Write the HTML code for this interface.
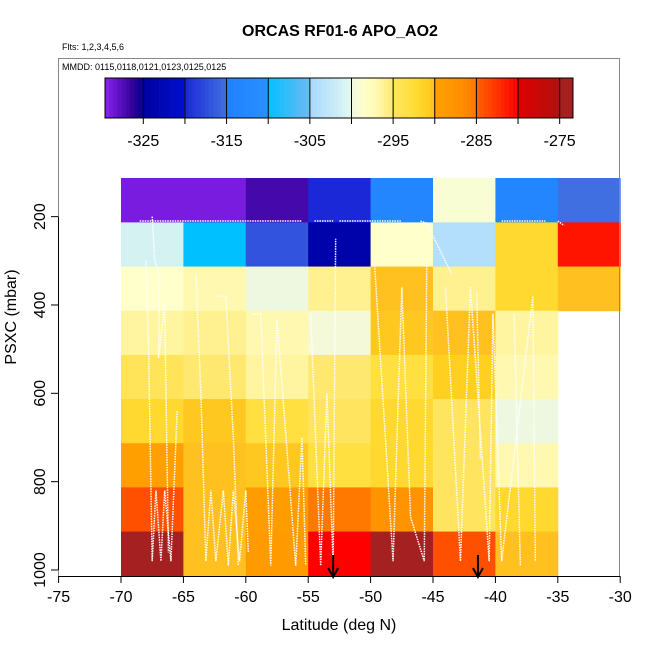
<!DOCTYPE html>
<html><head><meta charset="utf-8"><style>
body{margin:0;background:#fff}
svg text{font-family:"Liberation Sans",sans-serif}
</style></head><body>
<svg id="chart" width="650" height="650" viewBox="0 0 650 650">
<text x="340" y="36" text-anchor="middle" font-size="16" font-weight="bold">ORCAS RF01-6 APO_AO2</text>
<text x="62" y="50" font-size="9">Flts: 1,2,3,4,5,6</text>
<g id="cells"></g>
<g id="tracks"></g>
<rect x="58.5" y="58.5" width="561" height="518" fill="none" stroke="#888" stroke-width="1"/>
<text x="62" y="70" font-size="9">MMDD: 0115,0118,0121,0123,0125,0125</text>
<g id="cbar"></g>
<g id="axes"></g>
<text x="339" y="630" text-anchor="middle" font-size="16">Latitude (deg N)</text>
<text transform="translate(16,317) rotate(-90)" text-anchor="middle" font-size="16">PSXC (mbar)</text>
</svg>
<script>
const latEdges=[-70,-65,-60,-55,-50,-45,-40,-35,-30];
const presEdges=[112.5,213,313,413,513,613,713,813,913,1013];
// rows top (low pressure) to bottom; null = no data
const row1=[-329,-329,-327,-320,-313,-299,-313,-315.1];
const row2=[-301,-310,-317,-324,-298.5,-304,-292,-281];
const row3=[-298.5,-297,-300,-296,-290.05,-296,-292,-290.02];
const row4=[-296.5,-296,-297,-299.5,-290.5,-290.05,-296.5,null];
const row5=[-294.5,-295.02,-296.5,-295.02,-293,-291,-297,null];
const row6=[-292,-290.5,-293,-295,-292,-295,-300,null];
const row7=[-289.9,-290.05,-290.5,-293,-292,-295,-297,null];
const row8=[-284,-290.05,-289.5,-285.02,-287.5,-295,-292,null];
const row9=[-274,-290.02,-289,-280.01,-274.5,-284,-290.02,null];
const grid=[row1,row2,row3,row4,row5,row6,row7,row8,row9];
const cbTicks=[-325,-320,-315,-310,-305,-300,-295,-290,-285,-280,-275];
const cbLabels=[-325,-315,-305,-295,-285,-275];
const xTicks=[-75,-70,-65,-60,-55,-50,-45,-40,-35,-30];
const yTicks=[200,400,600,800,1000];
const arrowLats=[-53,-41.4];

const NS='http://www.w3.org/2000/svg';
const xs=l=>58.6+(l+75)*12.48;
const ys=p=>570-(1000-p)*0.4417;
const cbx=v=>105+(v+329.6)*(468/56.2);
const stops=[[-329.6,'#8a22f0'],[-326,'#2a0090'],[-325,'#0000a0'],[-320.01,'#0010d0'],[-320,'#1a28d8'],[-315.01,'#4070e0'],[-315,'#2080ff'],[-310.01,'#2a90ff'],[-310,'#00c0ff'],[-305.01,'#70b8f0'],[-305,'#a8d8ff'],[-300.01,'#e0f8f0'],[-300,'#eef8e0'],[-298.5,'#ffffcc'],[-297,'#fff8b0'],[-296,'#fff090'],[-295.01,'#ffe870'],[-295,'#ffe460'],[-293,'#ffe040'],[-292,'#ffd830'],[-291,'#ffd020'],[-290.01,'#ffc020'],[-290,'#ffa000'],[-287,'#ff9000'],[-285.01,'#ff7800'],[-285,'#ff6400'],[-280.01,'#ff0000'],[-280,'#e00000'],[-275.01,'#b01010'],[-275,'#a52020'],[-273.4,'#a52020']];
function hex(c){return [1,3,5].map(i=>parseInt(c.substr(i,2),16));}
function col(v){
  if(v<=stops[0][0])return stops[0][1];
  for(let i=1;i<stops.length;i++){if(v<=stops[i][0]){const a=stops[i-1],b=stops[i];const t=(v-a[0])/(b[0]-a[0]);const ca=hex(a[1]),cb=hex(b[1]);return 'rgb('+ca.map((x,k)=>Math.round(x+(cb[k]-x)*t)).join(',')+')';}}
  return stops[stops.length-1][1];
}
function mk(tag,attrs,parent){const e=document.createElementNS(NS,tag);for(const k in attrs)e.setAttribute(k,attrs[k]);parent.appendChild(e);return e;}
const cells=document.getElementById('cells');
grid.forEach((row,r)=>row.forEach((v,c)=>{
  if(v===null)return;
  const x0=xs(latEdges[c]),x1=xs(latEdges[c+1]),y0=ys(presEdges[r]),y1=ys(presEdges[r+1]);
  const e=mk('rect',{x:x0,y:y0,width:x1-x0+0.5,height:y1-y0+0.5,fill:col(v)},cells);
  
  
}));
// colorbar
const cb=document.getElementById('cbar');
for(let v=-329.6;v<-273.4;v+=0.5){const w=Math.min(cbx(v+0.5),573)-cbx(v)+0.3;const e=mk('rect',{x:cbx(v),y:78,width:Math.max(w,0),height:40,fill:col(v+0.25)},cb);

}
mk('rect',{x:105,y:78,width:468,height:40,fill:'none',stroke:'#000','stroke-width':1},cb);
cbTicks.forEach(t=>{const e=mk('line',{x1:cbx(t),x2:cbx(t),y1:78,y2:124,stroke:'#000','stroke-width':1},cb);

});
cbLabels.forEach(t=>{const e=mk('text',{x:cbx(t),y:146,'text-anchor':'middle','font-size':16},cb);e.textContent=t;

});
// axes
const ax=document.getElementById('axes');
mk('line',{x1:xs(-75),x2:xs(-30),y1:576.5,y2:576.5,stroke:'#000'},ax);
mk('line',{x1:58.5,x2:58.5,y1:ys(200),y2:ys(1000),stroke:'#000'},ax);
xTicks.forEach(t=>{mk('line',{x1:xs(t),x2:xs(t),y1:576,y2:583,stroke:'#000'},ax);
const e=mk('text',{x:xs(t),y:602,'text-anchor':'middle','font-size':16},ax);e.textContent=t;

});
yTicks.forEach(t=>{mk('line',{x1:51,x2:58,y1:ys(t),y2:ys(t),stroke:'#000'},ax);
const e=mk('text',{transform:'translate(45,'+ys(t)+') rotate(-90)','text-anchor':'middle','font-size':16},ax);e.textContent=t;

});
arrowLats.forEach(l=>{const x=xs(l);
const g=mk('g',{},ax);


mk('line',{x1:x,x2:x,y1:555,y2:576,stroke:'#000','stroke-width':2},g);
mk('path',{d:`M${x-5},${568} L${x},${577} L${x+5},${568}`,fill:'none',stroke:'#000','stroke-width':2},g);});
// flight tracks (decorative approximation)
const tr=document.getElementById('tracks');
const tracks=[
 [[-68.5,210],[-55.5,210]],[[-54.5,210],[-53,210]],[[-52.5,210],[-47.5,210]],[[-46,210],[-45.5,215],[-43.5,330]],[[-39.5,210],[-36,210]],[[-35,210],[-34.5,220]],
 [[-68,300],[-67.8,480],[-67.5,980],[-67.2,820],[-66.8,980],[-66.5,820],[-66,980],[-65.5,640]],
 [[-67.5,200],[-67.3,300],[-66.9,330],[-67,520],[-66.5,400],[-66.2,960]],
 [[-64,330],[-63.6,600],[-63.2,980],[-62.8,820],[-62.4,980],[-61.8,820],[-61.4,990],[-61,820],[-60.5,980],[-60,820],[-59.8,960]],
 [[-62.2,380],[-61.6,380],[-61,700],[-60.6,990]],
 [[-59.5,420],[-58.8,420],[-58,990],[-57.5,430],[-56,990],[-55.5,700],[-55.2,990]],
 [[-54.8,420],[-54,990],[-53.5,600],[-53,990],[-52.8,250]],
 [[-49.7,300],[-48.2,980],[-47.5,360],[-46.8,880],[-45.7,980],[-45.5,300]],
 [[-44,360],[-42.8,980],[-42,360],[-40.5,980],[-40.2,420],[-39.5,980],[-37,380],[-36.8,980]],
 [[-41.5,370],[-41.2,750]],[[-38.5,420],[-38,990]]
];
tracks.forEach(t=>{const e=mk('polyline',{points:t.map(p=>xs(p[0])+','+ys(p[1])).join(' '),fill:'none',stroke:'#fff','stroke-width':1.5,'stroke-dasharray':'1.5,1'},tr);

});
</script>
</body></html>
